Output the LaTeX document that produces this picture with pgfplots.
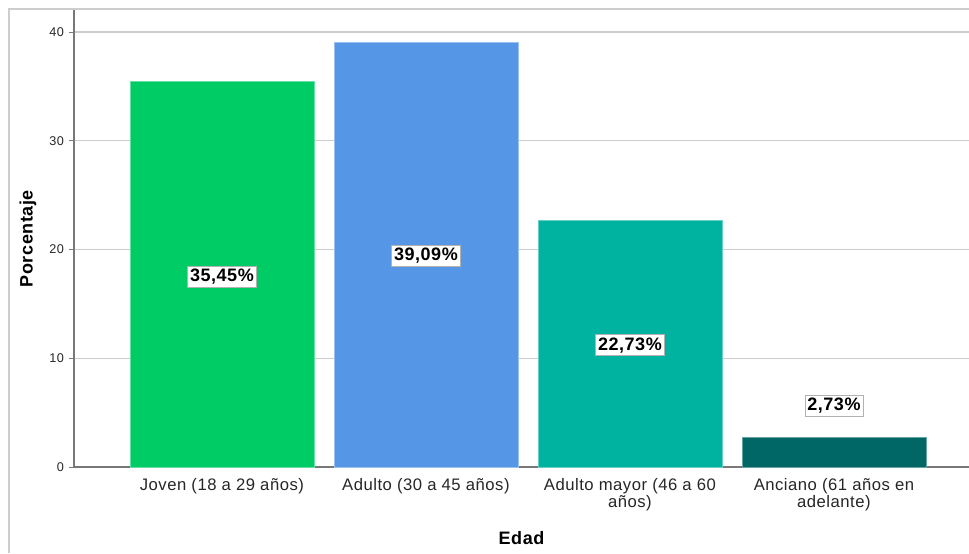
\documentclass[border=0pt]{standalone}
\usepackage{fontspec}
\setmainfont{Liberation Sans}
\newfontfamily\spss[LetterSpace=3]{Liberation Sans}
\newfontfamily\spssb[LetterSpace=3]{Liberation Sans Bold}
\usepackage{pgfplots}
\pgfplotsset{compat=1.18}
\definecolor{cJoven}{RGB}{0,204,102}
\definecolor{cAdulto}{RGB}{85,150,230}
\definecolor{cMayor}{RGB}{0,179,160}
\definecolor{cAnciano}{RGB}{0,102,102}
\definecolor{gridc}{RGB}{205,205,205}
\definecolor{axisc}{RGB}{120,120,120}
\begin{document}
\begin{tikzpicture}
\path[use as bounding box] (0,0) rectangle (726.75pt,414.75pt);
\draw[gridc, line width=1.2pt] (6.75pt,0) -- (6.75pt,408pt) -- (726.75pt,408pt);
\begin{axis}[
  at={(55.5pt,64.5pt)}, anchor=south west,
  scale only axis, width=671.25pt, height=342.56pt,
  xmin=-0.725, xmax=3.662, ymin=0, ymax=42,
  axis x line*=bottom, axis y line*=left,
  axis line style={axisc, line width=0.8pt, -},
  ybar, bar width=0.902, bar shift=0pt,
  xtick={0,1,2,3},
  xticklabels={Joven (18 a 29 años),Adulto (30 a 45 años),{Adulto mayor (46 a 60\\años)},{Anciano (61 años en\\adelante)}},
  xticklabel style={align=center, font=\spss\fontsize{12.5}{11.5}\selectfont, text=black!85, yshift=-1pt},
  major x tick style={draw=none},
  ytick={0,10,20,30,40},
  yticklabel style={font=\spss\fontsize{9.5}{10}\selectfont, text=black!85},
  /pgf/number format/assume math mode=true,
  major y tick style={axisc, line width=0.6pt},
  tick align=outside, major tick length=4pt,
  ymajorgrids, grid style={gridc, line width=0.8pt},
  xlabel={Edad}, ylabel={Porcentaje},
  xlabel style={font=\spssb\fontsize{13.5}{14}\selectfont, at={(axis description cs:0.5,0)}, anchor=center, yshift=-53pt},
  ylabel style={font=\spssb\fontsize{13.5}{14}\selectfont, at={(axis description cs:-0.0514,0.5)}, anchor=center, rotate=0},
  clip=false,
]
\addplot[fill=cJoven, draw=cJoven!60!white, line width=0.4pt] coordinates {(0,35.45)};
\addplot[fill=cAdulto, draw=cAdulto!60!white, line width=0.4pt] coordinates {(1,39.09)};
\addplot[fill=cMayor, draw=cMayor!60!white, line width=0.4pt] coordinates {(2,22.73)};
\addplot[fill=cAnciano, draw=cAnciano!60!white, line width=0.4pt] coordinates {(3,2.73)};
\tikzset{lab/.style={fill=white, draw=black!30, line width=0.6pt, inner xsep=1.8pt, inner ysep=2.2pt, font=\spssb\fontsize{13.5}{14}\selectfont}}
\node[lab] at (axis cs:0,17.5) {35,45\%};
\node[lab] at (axis cs:1,19.4) {39,09\%};
\node[lab] at (axis cs:2,11.2) {22,73\%};
\node[lab] at (axis cs:3,5.6) {2,73\%};
\end{axis}
\end{tikzpicture}
\end{document}
